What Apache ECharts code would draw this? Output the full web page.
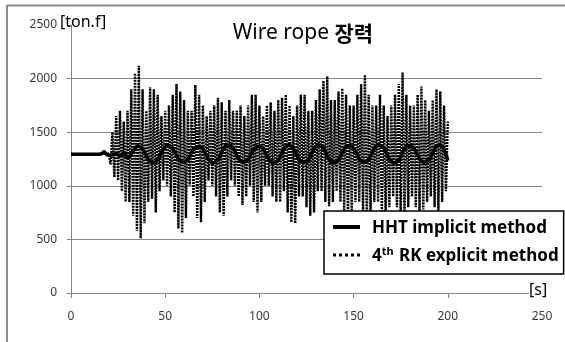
<!DOCTYPE html>
<html>
<head>
<meta charset="utf-8">
<script src="https://cdn.jsdelivr.net/npm/echarts@6/dist/echarts.min.js"></script>
<style>
html,body{margin:0;padding:0;background:#fff;}
#c{width:565px;height:342px;}
</style>
</head>
<body>
<div id="c"></div>
<script>
// ---- data ----
const titleText = 'Wire rope 장력';
const seriesNames = ['HHT implicit method', '4th RK explicit method'];
const xTicks = [0, 50, 100, 150, 200, 250];
const yTicks = [0, 500, 1000, 1500, 2000, 2500];

// HHT implicit method: time [s] and tension [ton.f] at readable turning points
const hhtTimes = [0, 15, 16.5, 17.5, 18.5, 20, 22, 24, 26, 28, 30, 32,
  35.6, 43.6, 51.6, 59.6, 67.6, 75.6, 83.6, 91.6, 99.6, 107.6, 115.6, 123.6,
  131.6, 139.6, 147.6, 155.6, 163.6, 171.6, 179.6, 187.6, 195.6, 200];
const hhtValues = [1295, 1295, 1300, 1318, 1300, 1285, 1290, 1300, 1280, 1310, 1260, 1300,
  1370, 1215, 1375, 1220, 1370, 1215, 1380, 1220, 1370, 1215, 1375, 1215,
  1380, 1215, 1375, 1220, 1380, 1215, 1375, 1220, 1380, 1235];

// 4th RK explicit method: one value per second, t = 0 .. 200
const rkStart = 0;
const rkStep = 1;
const rkValues = [
  1295,1295,1295,1295,1295,1295,1295,1295,1295,1295,
  1295,1295,1295,1295,1295,1295,1298,1312,1300,1292,
  1300,1200,1500,1080,1650,1050,1700,950,1600,850,
  1700,850,1900,720,2050,580,2120,510,1900,650,
  1700,850,1920,880,1900,750,1850,950,1650,1050,
  1700,1000,1750,900,1850,750,1950,600,1880,560,
  1800,700,1700,1000,1700,900,1940,700,1850,660,
  1750,850,1650,1050,1700,1000,1750,900,1820,750,
  1780,720,1700,900,1800,1050,1700,1000,1700,900,
  1750,820,1650,900,1750,1000,1850,850,1850,750,
  1750,850,1650,1000,1750,1000,1780,900,1700,850,
  1800,850,1820,950,1850,750,1750,660,1650,650,
  1750,900,1850,900,1850,800,1700,720,1700,750,
  1800,950,1900,950,1980,850,2020,810,1800,850,
  1800,950,1880,850,1910,750,1850,680,1750,750,
  1750,850,1850,850,1950,750,2035,650,1850,750,
  1750,850,1750,850,1850,750,1750,700,1650,800,
  1750,900,1850,800,1950,700,2056,700,1850,800,
  1750,900,1750,800,1850,760,1926,780,1800,850,
  1700,900,1800,800,1900,760,1880,850,1750,950,
  1600
];

const hhtData = hhtTimes.map((t, i) => [t, hhtValues[i]]);
const rkData = rkValues.map((v, i) => [rkStart + i * rkStep, v]);

const FONT = "'Noto Sans', 'Noto Sans CJK KR', sans-serif";
const chart = echarts.init(document.getElementById('c'), null, {renderer: 'canvas'});

chart.setOption({
  animation: false,
  backgroundColor: '#fff',
  grid: {left: 71, right: 23, top: 25, bottom: 49},
  title: {
    text: '{n|Wire rope }{b|장력}',
    left: 298, top: 18, textAlign: 'center',
    textStyle: {
      rich: {
        n: {fontFamily: FONT, fontSize: 21, color: '#000', fontWeight: 'normal'},
        b: {fontFamily: "'Noto Sans CJK KR', sans-serif", fontSize: 21, color: '#000', fontWeight: 'bold'}
      }
    }
  },
  legend: {
    orient: 'vertical',
    left: 324, top: 211,
    padding: [9, 5, 9, 9],
    itemGap: 8,
    itemWidth: 27, itemHeight: 17,
    backgroundColor: '#fff',
    borderColor: '#000', borderWidth: 1.5, borderRadius: 0,
    data: [
      {name: seriesNames[0], icon: 'path://M0,0 L27,0 L27,4 L0,4 Z', itemStyle: {color: '#000'}},
      {name: seriesNames[1], icon: 'path://M0,0 L3,0 L3,3 L0,3 Z M6,0 L9,0 L9,3 L6,3 Z M12,0 L15,0 L15,3 L12,3 Z M18,0 L21,0 L21,3 L18,3 Z M24,0 L27,0 L27,3 L24,3 Z', itemStyle: {color: '#000'}}
    ],
    formatter: function (name) {
      if (name === seriesNames[1]) return '{m|4}{sup|th}{m| RK explicit method}';
      return '{m|' + name + '}';
    },
    textStyle: {
      fontFamily: FONT, fontSize: 17, fontWeight: 'bold', color: '#000',
      padding: [0, 0, 0, 7],
      rich: {
        m: {fontFamily: FONT, fontSize: 17, fontWeight: 'bold', color: '#000', lineHeight: 20, verticalAlign: 'bottom'},
        sup: {fontFamily: FONT, fontSize: 11, fontWeight: 'bold', color: '#000', lineHeight: 11, verticalAlign: 'top', padding: [1, 1, 0, 0]}
      }
    }
  },
  xAxis: {
    type: 'value', min: xTicks[0], max: xTicks[xTicks.length - 1], interval: 50,
    axisLine: {show: true, onZero: false, lineStyle: {color: '#888', width: 1}},
    axisTick: {show: true, length: 5, lineStyle: {color: '#888'}},
    splitLine: {show: false},
    axisLabel: {margin: 18, fontFamily: FONT, fontSize: 12, color: '#3a3a3a', formatter: v => String(v)}
  },
  yAxis: {
    type: 'value', min: yTicks[0], max: yTicks[yTicks.length - 1], interval: 500,
    axisLine: {show: true, lineStyle: {color: '#888', width: 1}},
    axisTick: {show: true, length: 4, lineStyle: {color: '#888'}},
    splitLine: {show: true, lineStyle: {color: ['#888', '#888', '#888', '#888', '#888', 'rgba(0,0,0,0)'], width: 1}},
    axisLabel: {margin: 14, fontFamily: FONT, fontSize: 12, color: '#3a3a3a', formatter: v => String(v)}
  },
  graphic: [
    {type: 'line', shape: {x1: 7, y1: 5.5, x2: 565, y2: 5.5}, style: {stroke: '#8c8c8c', lineWidth: 2}, z: 100},
    {type: 'line', shape: {x1: 7, y1: 5, x2: 7, y2: 342}, style: {stroke: '#8c8c8c', lineWidth: 2}, z: 100},
    {type: 'text', left: 60, top: 14, style: {text: '[ton.f]', font: "16px 'Noto Sans', sans-serif", fill: '#000'}, z: 100},
    {type: 'text', left: 529, top: 282, style: {text: '[s]', font: "16px 'Noto Sans', sans-serif", fill: '#000', backgroundColor: '#fff'}, z: 100}
  ],
  series: [
    {
      name: seriesNames[1], type: 'line', data: rkData,
      symbol: 'none', smooth: false, z: 2,
      lineStyle: {color: '#000', width: 2.4, type: [2, 1]},
      itemStyle: {color: '#000'}
    },
    {
      name: seriesNames[0], type: 'line', data: hhtData,
      symbol: 'none', smooth: 0.5, z: 3,
      lineStyle: {color: '#000', width: 3.5},
      itemStyle: {color: '#000'}
    }
  ]
});
</script>
</body>
</html>
